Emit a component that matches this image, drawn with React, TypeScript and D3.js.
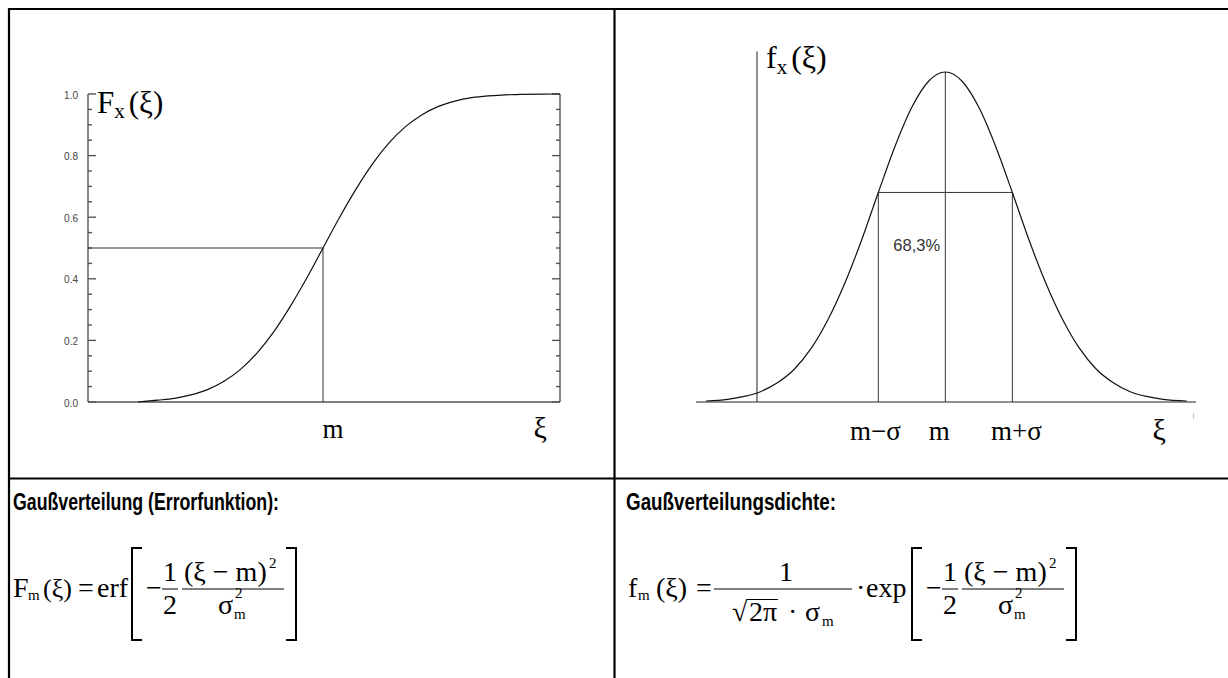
import React from "react";
import * as d3 from "d3";

// ---------- Left panel: Gaussian distribution function (ξ in σ-units, m = 0) ----------
const cdfXi = [-2.8, -2.5, -2.25, -2.0, -1.75, -1.5, -1.25, -1.0, -0.75, -0.5, -0.25, 0, 0.25, 0.5, 0.75, 1.0, 1.25, 1.5, 1.75, 2.0, 2.25, 2.5, 2.75, 3.0, 3.59];
const cdfVal = [0.0, 0.006, 0.012, 0.023, 0.04, 0.067, 0.106, 0.159, 0.227, 0.309, 0.401, 0.5, 0.599, 0.691, 0.773, 0.841, 0.894, 0.933, 0.96, 0.977, 0.988, 0.994, 0.997, 0.999, 1.0];
const cdfDomain = [-3.56, 3.59];
const cdfTicks = [0, 0.2, 0.4, 0.6, 0.8, 1.0];
const cdfTickLabels = ["0.0", "0.2", "0.4", "0.6", "0.8", "1.0"];
const cdfMedian = [0, 0.5];

// ---------- Right panel: Gaussian density (ξ in σ-units, m = 0, peak = 1) ----------
const pdfXi = [-3.57, -3.25, -3.0, -2.75, -2.5, -2.25, -2.0, -1.75, -1.5, -1.25, -1.0, -0.75, -0.5, -0.25, 0, 0.25, 0.5, 0.75, 1.0, 1.25, 1.5, 1.75, 2.0, 2.25, 2.5, 2.75, 3.0, 3.25, 3.6];
const pdfVal = [0.003, 0.008, 0.017, 0.032, 0.059, 0.1, 0.163, 0.25, 0.36, 0.49, 0.635, 0.775, 0.893, 0.972, 1.0, 0.972, 0.893, 0.775, 0.635, 0.49, 0.36, 0.25, 0.163, 0.1, 0.059, 0.032, 0.017, 0.008, 0.003];
const pdfDomain = [-3.72, 3.74];
const pdfAxisXi = -2.81;
const pdfAxisTop = 1.062;
const markerXi = [-1, 0, 1];
const markerVal = [0.635, 1.0, 0.635];
const markerLabels = ["m\u2212\u03c3", "m", "m+\u03c3"];
const bandLabel = "68,3%";

const titleLeft = "Gaußverteilung (Errorfunktion):";
const titleRight = "Gaußverteilungsdichte:";

const SERIF = "'Liberation Serif', 'Times New Roman', serif";
const SANS = "'Liberation Sans', Arial, sans-serif";

function Bracket({ x, y1, y2, dir }: { x: number; y1: number; y2: number; dir: number }) {
  const s = 10 * dir;
  return <path d={`M${x + s},${y1} H${x} V${y2} H${x + s}`} fill="none" stroke="#000" strokeWidth={2} />;
}

// exponent bracket "[ −1/2 (ξ−m)²/σ_m² ]" starting at x0 (position of "[")
function ExpBracket({ x0 }: { x0: number }) {
  const A = 589; // math axis
  return (
    <g>
      <Bracket x={x0 + 2} y1={548} y2={640} dir={1} />
      <text x={x0 + 16} y={597}>−</text>
      <text x={x0 + 40} y={581} textAnchor="middle">1</text>
      <line x1={x0 + 32} x2={x0 + 48} y1={A} y2={A} stroke="#000" strokeWidth={1} />
      <text x={x0 + 40} y={614} textAnchor="middle">2</text>
      <text x={x0 + 54} y={581}>(ξ − m)</text>
      <text x={x0 + 139} y={568} fontSize={15}>2</text>
      <line x1={x0 + 52} x2={x0 + 154} y1={A} y2={A} stroke="#000" strokeWidth={1} />
      <text x={x0 + 88} y={614}>σ</text>
      <text x={x0 + 104} y={619} fontSize={15}>m</text>
      <text x={x0 + 105} y={598} fontSize={15}>2</text>
      <Bracket x={x0 + 166} y1={548} y2={640} dir={-1} />
    </g>
  );
}

export default function App() {
  // left scales
  const xL = d3.scaleLinear().domain(cdfDomain).range([88, 560]);
  const yL = d3.scaleLinear().domain([0, 1]).range([402, 94]);
  const cdfLine = d3.line<number>().x((_, i) => xL(cdfXi[i])).y(d => yL(d)).curve(d3.curveMonotoneX);
  const minorTicks = d3.range(0, 1.0001, 0.05);

  // right scales
  const xR = d3.scaleLinear().domain(pdfDomain).range([696, 1196]);
  const yR = d3.scaleLinear().domain([0, 1]).range([402, 72]);
  const pdfLine = d3.line<number>().x((_, i) => xR(pdfXi[i])).y(d => yR(d)).curve(d3.curveMonotoneX);

  const labelDx = [-3, -6, 4];

  return (
    <div style={{ position: "fixed", left: 0, top: 0, width: 1228, height: 678, background: "#fff" }}>
      <svg width={1228} height={678} style={{ display: "block" }}>
        <rect width={1228} height={678} fill="#fff" />
        {/* table frame */}
        <g stroke="#000" strokeWidth={2.2}>
          <line x1={8} x2={1228} y1={9} y2={9} />
          <line x1={9} x2={9} y1={8} y2={678} />
          <line x1={614.5} x2={614.5} y1={8} y2={678} />
          <line x1={8} x2={1228} y1={478.5} y2={478.5} />
        </g>

        {/* ---------- left chart ---------- */}
        <g>
          <g stroke="#555" strokeWidth={1.4} fill="none">
            <line x1={xL(cdfDomain[0])} x2={xL(cdfDomain[0])} y1={yL(1)} y2={yL(0)} />
            <line x1={xL(cdfDomain[1])} x2={xL(cdfDomain[1])} y1={yL(1)} y2={yL(0)} />
            <line x1={xL(cdfDomain[0])} x2={xL(cdfDomain[1])} y1={yL(0)} y2={yL(0)} />
            {minorTicks.map((t, i) => {
              const major = i % 4 === 0;
              const len = major ? 8 : 4;
              return (
                <g key={i}>
                  <line x1={xL(cdfDomain[0])} x2={xL(cdfDomain[0]) + len} y1={yL(t)} y2={yL(t)} />
                  <line x1={xL(cdfDomain[1])} x2={xL(cdfDomain[1]) - len} y1={yL(t)} y2={yL(t)} />
                </g>
              );
            })}
          </g>
          {cdfTicks.map((t, i) => (
            <text key={i} x={xL(cdfDomain[0]) - 10} y={yL(t) + 1} dy="0.35em" textAnchor="end" fontFamily={SANS} fontSize={10} fill="#444">
              {cdfTickLabels[i]}
            </text>
          ))}
          {/* median guide */}
          <g stroke="#333" strokeWidth={1}>
            <line x1={xL(cdfDomain[0])} x2={xL(cdfMedian[0])} y1={yL(cdfMedian[1])} y2={yL(cdfMedian[1])} />
            <line x1={xL(cdfMedian[0])} x2={xL(cdfMedian[0])} y1={yL(cdfMedian[1])} y2={yL(0)} />
          </g>
          <path d={cdfLine(cdfVal) || ""} fill="none" stroke="#111" strokeWidth={1.2} />
          <text x={97} y={113} fontFamily={SERIF} fontSize={31} fill="#000">
            F<tspan fontSize={21} dy={5}>x</tspan><tspan dy={-5} dx={4}>(ξ)</tspan>
          </text>
          <text x={xL(0) + 10} y={438} textAnchor="middle" fontFamily={SERIF} fontSize={27}>m</text>
          <text x={xL(3.29)} y={438} textAnchor="middle" fontFamily={SERIF} fontSize={30}>ξ</text>
        </g>

        {/* ---------- right chart ---------- */}
        <g>
          <line x1={xR(pdfAxisXi)} x2={xR(pdfAxisXi)} y1={yR(0)} y2={yR(pdfAxisTop)} stroke="#222" strokeWidth={1} />
          <line x1={xR(pdfDomain[0])} x2={xR(pdfDomain[1])} y1={yR(0)} y2={yR(0)} stroke="#222" strokeWidth={1.2} />
          <g stroke="#333" strokeWidth={1}>
            {markerXi.map((m, i) => (
              <line key={i} x1={xR(m)} x2={xR(m)} y1={yR(0)} y2={yR(markerVal[i])} />
            ))}
            <line x1={xR(markerXi[0])} x2={xR(markerXi[2])} y1={yR(markerVal[0])} y2={yR(markerVal[0])} />
          </g>
          <path d={pdfLine(pdfVal) || ""} fill="none" stroke="#111" strokeWidth={1.2} />
          <text x={xR(markerXi[0]) + 15} y={251} fontFamily={SANS} fontSize={16.5} fill="#333">{bandLabel}</text>
          {markerLabels.map((l, i) => (
            <text key={i} x={xR(markerXi[i]) + labelDx[i]} y={440} textAnchor="middle" fontFamily={SERIF} fontSize={27}>{l}</text>
          ))}
          <text x={xR(3.19)} y={440} textAnchor="middle" fontFamily={SERIF} fontSize={30}>ξ</text>
          <line x1={xR(3.7)} x2={xR(3.7)} y1={413} y2={419} stroke="#bbb" strokeWidth={1} />
          <text x={766} y={68} fontFamily={SERIF} fontSize={32} fill="#000">
            f<tspan fontSize={21} dy={6}>x</tspan><tspan dy={-6} dx={4}>(ξ)</tspan>
          </text>
        </g>

        {/* ---------- bottom: titles ---------- */}
        <text x={13} y={510} fontFamily={SANS} fontWeight="bold" fontSize={23} textLength={266} lengthAdjust="spacingAndGlyphs">{titleLeft}</text>
        <text x={626} y={510} fontFamily={SANS} fontWeight="bold" fontSize={23} textLength={210} lengthAdjust="spacingAndGlyphs">{titleRight}</text>

        {/* left formula */}
        <g fontFamily={SERIF} fontSize={28} fill="#000">
          <text x={13} y={597}>F</text>
          <text x={28} y={600} fontSize={15}>m</text>
          <text x={43} y={597} fontSize={26}>(ξ)</text>
          <text x={78} y={597}>=</text>
          <text x={97} y={597}>erf</text>
          <ExpBracket x0={130} />
        </g>

        {/* right formula */}
        <g fontFamily={SERIF} fontSize={28} fill="#000">
          <text x={628} y={597}>f</text>
          <text x={638} y={600} fontSize={15}>m</text>
          <text x={656} y={597}>(ξ)</text>
          <text x={696} y={597}>=</text>
          <text x={786} y={581} textAnchor="middle">1</text>
          <line x1={714} x2={852} y1={589} y2={589} stroke="#000" strokeWidth={1} />
          <text x={732} y={621}>√</text>
          <line x1={747} x2={778} y1={599.5} y2={599.5} stroke="#000" strokeWidth={1} />
          <text x={749} y={621}>2π</text>
          <text x={788} y={621}>·</text>
          <text x={805} y={621}>σ</text>
          <text x={822} y={626} fontSize={15}>m</text>
          <text x={856} y={597}>·</text>
          <text x={866} y={597}>exp</text>
          <ExpBracket x0={910} />
        </g>
      </svg>
    </div>
  );
}
